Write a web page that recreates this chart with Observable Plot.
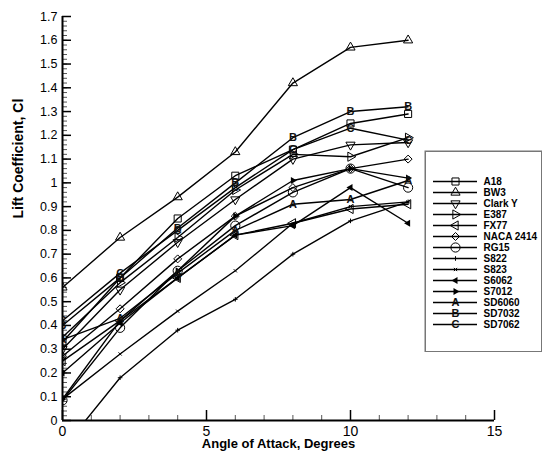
<!DOCTYPE html>
<html><head><meta charset="utf-8">
<script src="https://cdn.jsdelivr.net/npm/d3@7"></script>
<script src="https://cdn.jsdelivr.net/npm/@observablehq/plot@0.6"></script>
<style>
body{margin:0;background:#fff;}
#wrap{position:relative;width:542px;height:457px;font-family:"Liberation Sans",Arial,sans-serif;}
#legend{position:absolute;left:424px;top:150px;}
</style></head><body><div id="wrap"><div id="chart"></div><div id="legend"></div></div>
<script>
// ---- data ----
const alpha = [0, 2, 4, 6, 8, 10, 12];
const names = ["A18","BW3","Clark Y","E387","FX77","NACA 2414","RG15","S822","S823","S6062","S7012","SD6060","SD7032","SD7062"];
const cl_A18     = [0.33, 0.60, 0.85, 1.03, 1.14, 1.25, 1.29];
const cl_BW3     = [0.56, 0.77, 0.94, 1.13, 1.42, 1.57, 1.60];
const cl_ClarkY  = [0.30, 0.55, 0.75, 0.93, 1.10, 1.16, 1.17];
const cl_E387    = [0.35, 0.58, 0.77, 0.97, 1.12, 1.11, 1.19];
const cl_FX77    = [0.25, 0.42, 0.60, 0.78, 0.83, 0.89, 0.91];
const cl_NACA    = [0.27, 0.47, 0.68, 0.86, 0.98, 1.06, 1.10];
const cl_RG15    = [0.085, 0.39, 0.63, 0.82, 0.96, 1.06, 0.98];
const cl_S822    = [-0.12, 0.18, 0.38, 0.51, 0.70, 0.84, 0.92];
const cl_S823    = [0.09, 0.28, 0.46, 0.63, 0.83, 0.90, 0.92];
const cl_S6062   = [0.20, 0.41, 0.60, 0.78, 0.82, 0.98, 0.83];
const cl_S7012   = [0.09, 0.42, 0.63, 0.86, 1.01, 1.06, 1.02];
const cl_SD6060  = [0.34, 0.43, 0.62, 0.80, 0.91, 0.93, 1.01];
const cl_SD7032  = [0.40, 0.60, 0.81, 1.00, 1.19, 1.30, 1.32];
const cl_SD7062  = [0.42, 0.62, 0.80, 0.98, 1.14, 1.23, 1.18];
const seriesValues = [cl_A18, cl_BW3, cl_ClarkY, cl_E387, cl_FX77, cl_NACA, cl_RG15, cl_S822, cl_S823, cl_S6062, cl_S7012, cl_SD6060, cl_SD7032, cl_SD7062];
const xTickLabels = [0, 5, 10, 15];
const yTickLabels = [0, 0.1, 0.2, 0.3, 0.4, 0.5, 0.6, 0.7, 0.8, 0.9, 1, 1.1, 1.2, 1.3, 1.4, 1.5, 1.6, 1.7];
const xTitle = "Angle of Attack, Degrees";
const yTitle = "Lift Coefficient, Cl";

// ---- marker styles ----
const hollow = {
  "A18": {symbol: "square", rotate: 0, r: 4},
  "BW3": {symbol: "triangle", rotate: 0, r: 3.4},
  "Clark Y": {symbol: "triangle", rotate: 180, r: 3.4},
  "E387": {symbol: "triangle", rotate: 90, r: 3.4},
  "FX77": {symbol: "triangle", rotate: -90, r: 3.4},
  "NACA 2414": {symbol: "diamond2", rotate: 0, r: 3.6},
  "RG15": {symbol: "circle", rotate: 0, r: 4.6}
};
const tiny = {"S822": "plus", "S823": "times"};
const arrows = {"S6062": -90, "S7012": 90};
const letters = {"SD6060": "A", "SD7032": "B", "SD7062": "C"};

const rows = [];
names.forEach((n, k) => seriesValues[k].forEach((v, i) => rows.push({name: n, a: alpha[i], cl: v})));

function markerMarks(data, x, y, clip) {
  const marks = [];
  for (const n of Object.keys(hollow)) {
    const s = hollow[n];
    marks.push(Plot.dot(data.filter(d => d.name === n), {x, y, symbol: s.symbol, rotate: s.rotate, r: s.r, stroke: "black", strokeWidth: 1, fill: "white", fillOpacity: 0, clip}));
  }
  for (const n of Object.keys(tiny)) {
    marks.push(Plot.dot(data.filter(d => d.name === n), {x, y, symbol: tiny[n], r: 1.6, stroke: "black", strokeWidth: 1, clip}));
  }
  for (const n of Object.keys(arrows)) {
    marks.push(Plot.dot(data.filter(d => d.name === n), {x, y, symbol: "triangle", rotate: arrows[n], r: 2.6, fill: "black", stroke: "none", clip}));
  }
  for (const n of Object.keys(letters)) {
    marks.push(Plot.text(data.filter(d => d.name === n), {x, y, text: () => letters[n], fontSize: 11, fontWeight: "bold", fill: "#111", clip}));
  }
  return marks;
}

const W = 542, H = 457, mL = 62, mR = 48, mT = 16, mB = 37;
const pw = W - mL - mR, ph = H - mT - mB;
const yMinor = d3.range(0, 86).map(i => i / 50);
const xMinor = d3.range(0, 16);

const chart = Plot.plot({
  width: W, height: H,
  marginLeft: mL, marginRight: mR, marginTop: mT, marginBottom: mB,
  style: {fontFamily: "'Liberation Sans', Arial, sans-serif", background: "white", color: "black"},
  x: {domain: [0, 15], axis: null, label: null},
  y: {domain: [0, 1.7], axis: null, label: null},
  marks: [
    Plot.tickY(yMinor, {y: d => d, insetRight: pw - 5, stroke: "#555", strokeWidth: 1}),
    Plot.tickY(yTickLabels, {y: d => d, insetRight: pw - 9, stroke: "black", strokeWidth: 1.5}),
    Plot.tickX(xMinor, {x: d => d, insetTop: ph - 5, stroke: "#555", strokeWidth: 1}),
    Plot.tickX(xTickLabels, {x: d => d, insetTop: ph - 10, stroke: "black", strokeWidth: 1.5}),
    Plot.axisY(yTickLabels, {tickSize: 0, tickPadding: 5, fontSize: 12.5, label: null, tickFormat: d => String(d)}),
    Plot.axisX(xTickLabels, {tickSize: 0, tickPadding: 6, fontSize: 14, label: null, tickFormat: d => String(d)}),
    Plot.line(rows, {x: "a", y: "cl", z: "name", stroke: "black", strokeWidth: 1.4, clip: true}),
    ...markerMarks(rows, "a", "cl", true),
    Plot.ruleX([0], {stroke: "black", strokeWidth: 2}),
    Plot.ruleY([0], {stroke: "black", strokeWidth: 2}),
    Plot.text([xTitle], {frameAnchor: "bottom", dy: 27, text: d => d, fontWeight: "bold", fontSize: 13}),
    Plot.text([yTitle], {frameAnchor: "left", dx: -44, rotate: -90, text: d => d, fontWeight: "bold", fontSize: 14, letterSpacing: "0.6px"})
  ]
});
document.getElementById("chart").appendChild(chart);

// ---- legend ----
const legRows = names.map(n => ({name: n}));
const legend = Plot.plot({
  width: 118, height: 202, margin: 0,
  style: {fontFamily: "'Liberation Sans', Arial, sans-serif", background: "white", color: "black"},
  x: {domain: [0, 118], range: [0, 118], axis: null, label: null},
  y: {type: "point", domain: names, range: [21, 183], axis: null, label: null},
  marks: [
    Plot.frame({stroke: "#777", strokeWidth: 1.5, inset: 0.75}),
    Plot.ruleY(legRows, {y: "name", x1: 9, x2: 53, stroke: "black", strokeWidth: 1.4}),
    ...markerMarks(legRows, () => 31, "name", false),
    Plot.text(legRows, {y: "name", x: () => 59, text: "name", textAnchor: "start", fontWeight: "bold", fontSize: 10})
  ]
});
document.getElementById("legend").appendChild(legend);
</script></body></html>
